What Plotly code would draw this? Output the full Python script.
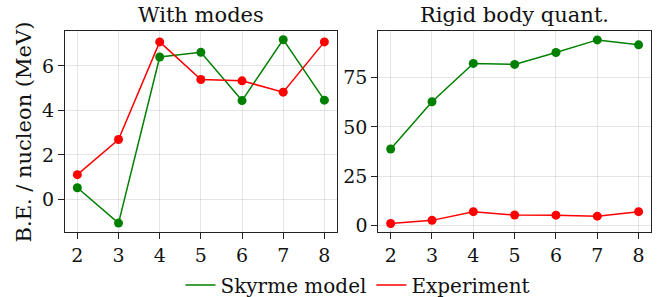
import plotly.graph_objects as go

nucleons = [2, 3, 4, 5, 6, 7, 8]
skyrme_modes = [0.52, -1.07, 6.40, 6.61, 4.44, 7.18, 4.46]
experiment = [1.11, 2.69, 7.08, 5.39, 5.33, 4.82, 7.08]
skyrme_rigid = [38.8, 62.7, 82.1, 81.6, 87.6, 94.0, 91.5]
titles = ["With modes", "Rigid body quant."]
ylabel = "B.E. / nucleon (MeV)"

GREEN = "#008000"
RED = "#FF0000"
FONT = "DejaVu Serif"
QFONT = "'DejaVu Serif', serif"

fig = go.Figure()

def add_series(x, y, color, xa, ya):
    fig.add_trace(go.Scatter(x=x, y=y, mode="lines+markers", xaxis=xa, yaxis=ya,
                             line=dict(color=color, width=1.5),
                             marker=dict(color=color, size=9),
                             showlegend=False))

add_series(nucleons, skyrme_modes, GREEN, "x", "y")
add_series(nucleons, experiment, RED, "x", "y")
add_series(nucleons, skyrme_rigid, GREEN, "x2", "y2")
add_series(nucleons, experiment, RED, "x2", "y2")

# legend entries (line only)
fig.add_trace(go.Scatter(x=[None], y=[None], mode="lines", name="Skyrme model",
                         line=dict(color=GREEN, width=1.5)))
fig.add_trace(go.Scatter(x=[None], y=[None], mode="lines", name="Experiment",
                         line=dict(color=RED, width=1.5)))

def axis_common():
    return dict(showline=True, mirror=True, linecolor="#222", linewidth=1,
                ticks="outside", ticklen=6, tickcolor="#222",
                showgrid=True, gridcolor="rgba(0,0,0,0.10)", gridwidth=1,
                zeroline=False, automargin=False,
                tickfont=dict(family=QFONT, size=19, color="#111"))

fig.update_layout(
    width=660, height=297,
    margin=dict(l=65, r=9, t=31, b=65, autoexpand=False),
    plot_bgcolor="white", paper_bgcolor="white",
    xaxis=dict(domain=[0, 0.4637], range=[1.7, 8.3], dtick=1, anchor="y", **axis_common()),
    yaxis=dict(range=[-1.47, 7.57], tickvals=[0, 2, 4, 6], anchor="x", **axis_common()),
    xaxis2=dict(domain=[0.5346, 1], range=[1.7, 8.3], dtick=1, anchor="y2", **axis_common()),
    yaxis2=dict(range=[-3.2, 98.5], tickvals=[0, 25, 50, 75], anchor="x2", **axis_common()),
    legend=dict(orientation="h", x=0.5, xanchor="center", y=-0.264, yanchor="middle",
                font=dict(family=QFONT, size=20, color="#111"),
                itemwidth=30, tracegroupgap=0, bgcolor="rgba(0,0,0,0)"),
    font=dict(family=QFONT, color="#111"),
)

fig.add_annotation(text=titles[0], xref="x domain", yref="paper", x=0.5, y=1,
                   xanchor="center", yanchor="bottom", yshift=2, showarrow=False,
                   font=dict(family=FONT, size=21, color="#111"))
fig.add_annotation(text=titles[1], xref="x2 domain", yref="paper", x=0.5, y=1,
                   xanchor="center", yanchor="bottom", yshift=2, showarrow=False,
                   font=dict(family=FONT, size=21, color="#111"))
fig.add_annotation(text=ylabel, xref="paper", yref="paper", x=-0.07, y=0.5,
                   xanchor="center", yanchor="middle", textangle=-90, showarrow=False,
                   font=dict(family=FONT, size=21, color="#111"))

fig.write_html("out.html", config={"displayModeBar": False},
               post_script="document.body.style.margin='0';document.body.style.overflow='hidden';")
